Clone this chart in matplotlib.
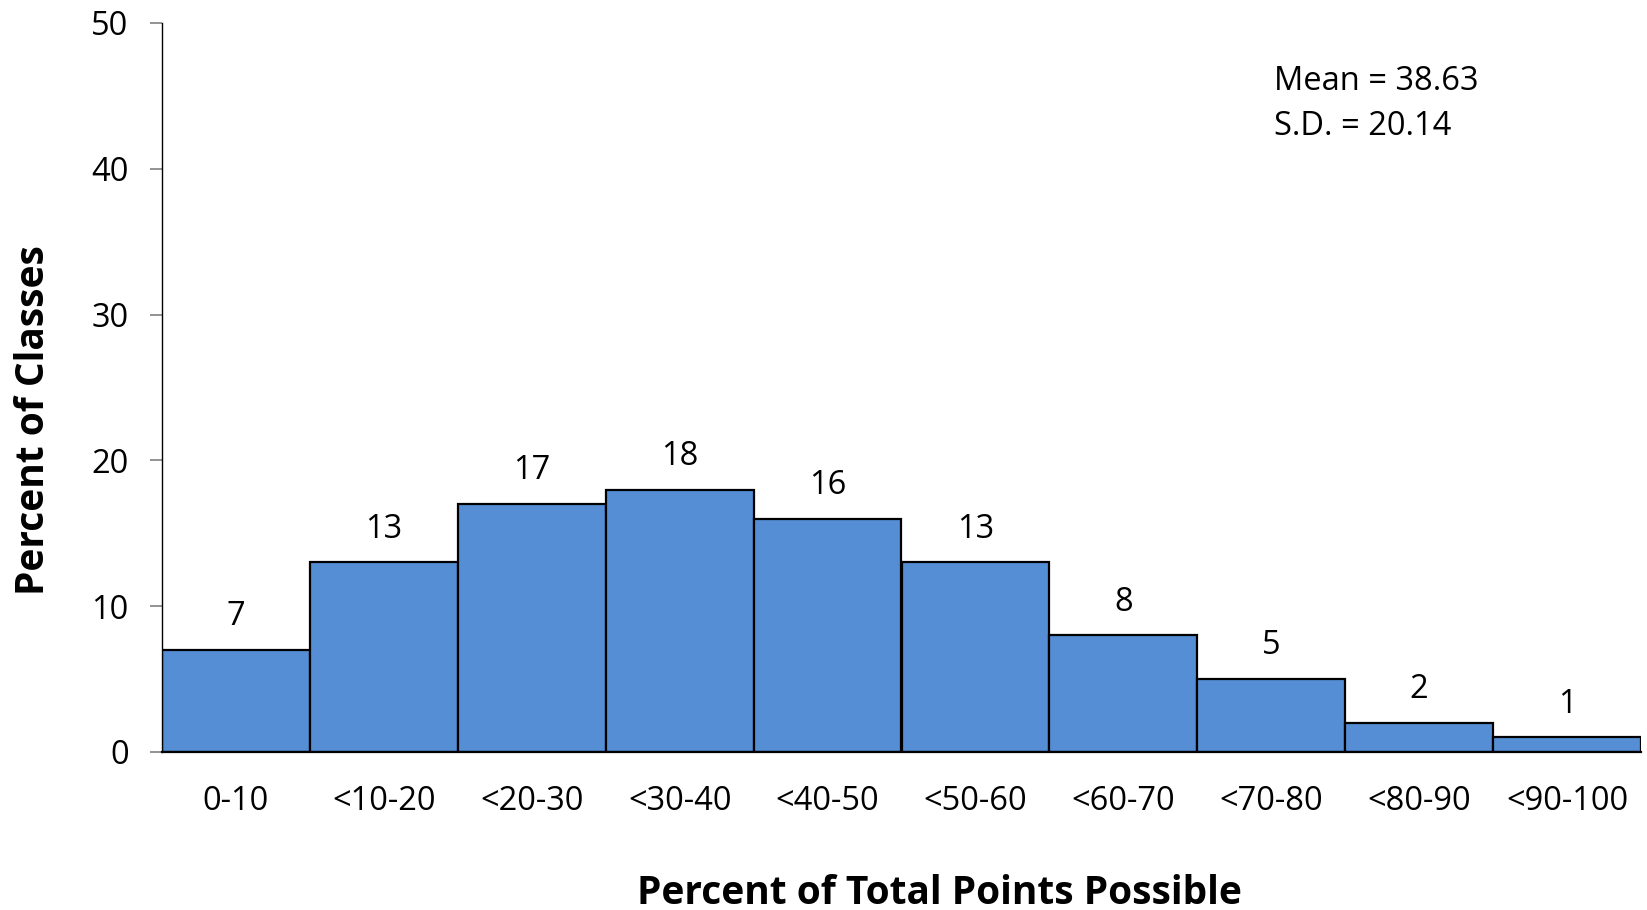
import matplotlib
matplotlib.use("Agg")
import matplotlib.pyplot as plt

plt.rcParams['font.family'] = ['Open Sans', 'DejaVu Sans']

# histogram data
bins = ['0-10', '<10-20', '<20-30', '<30-40', '<40-50',
        '<50-60', '<60-70', '<70-80', '<80-90', '<90-100']
percent = [7, 13, 17, 18, 16, 13, 8, 5, 2, 1]
stats_text = "Mean = 38.63\nS.D. = 20.14"

W, H = 1647, 910
fig = plt.figure(figsize=(W / 100, H / 100), dpi=100)
ax = fig.add_axes([162 / W, 158 / H, 1479 / W, 729 / H])

x = list(range(len(bins)))
ax.bar(x, percent, width=1.0, color='#558ED5', edgecolor='black', linewidth=1.6)

# value labels above each bar
for xi, v in zip(x, percent):
    ax.annotate(str(v), (xi, v), xytext=(0, 12), textcoords='offset points',
                ha='center', va='bottom', fontsize=23.5)

ax.set_xlim(-0.5, len(bins) - 0.5)
ax.set_ylim(0, 50)
ax.set_yticks([0, 10, 20, 30, 40, 50])
ax.set_xticks(x)
ax.set_xticklabels(bins)

ax.tick_params(axis='y', direction='out', length=9, width=1.2, color='#808080',
               labelsize=23.5, pad=15)
ax.tick_params(axis='x', length=0, labelsize=23.5, pad=24)

for side in ['top', 'right']:
    ax.spines[side].set_visible(False)
ax.spines['left'].set_linewidth(1.0)
ax.spines['bottom'].set_linewidth(1.6)

ax.set_xlabel('Percent of Total Points Possible', fontsize=28, fontweight='bold')
ax.xaxis.label.set_va('center')
ax.xaxis.set_label_coords(939 / W, 1 - 893 / H, transform=fig.transFigure)
ax.set_ylabel('Percent of Classes', fontsize=28, fontweight='bold')
ax.yaxis.label.set_va('center')
ax.yaxis.set_label_coords(34 / W, 1 - 420 / H, transform=fig.transFigure)

ax.text(1274 / W, 1 - 104 / H, stats_text, transform=fig.transFigure,
        ha='left', va='center', fontsize=23.5, linespacing=1.5)

fig.savefig('out.png', dpi=100)
